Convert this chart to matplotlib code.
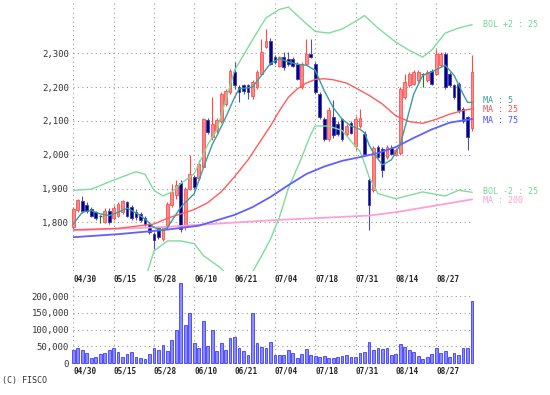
import matplotlib
matplotlib.use('Agg')
import matplotlib.pyplot as plt
import matplotlib.transforms as mtransforms
from matplotlib.ticker import FuncFormatter

# trading days (2024/04/30 - 2024/09/06)
dates = ['04/30',
         '05/01', '05/02', '05/07', '05/08', '05/09', '05/10', '05/13', '05/14', '05/15',
         '05/16', '05/17', '05/20', '05/21', '05/22', '05/23', '05/24', '05/27', '05/28',
         '05/29', '05/30', '05/31',
         '06/03', '06/04', '06/05', '06/06', '06/07', '06/10', '06/11', '06/12', '06/13',
         '06/14', '06/17', '06/18', '06/19', '06/20', '06/21', '06/24', '06/25', '06/26',
         '06/27', '06/28',
         '07/01', '07/02', '07/03', '07/04', '07/05', '07/08', '07/09', '07/10', '07/11',
         '07/12', '07/16', '07/17', '07/18', '07/19', '07/22', '07/23', '07/24', '07/25',
         '07/26', '07/29', '07/30', '07/31',
         '08/01', '08/02', '08/05', '08/06', '08/07', '08/08', '08/09', '08/13', '08/14',
         '08/15', '08/16', '08/19', '08/20', '08/21', '08/22', '08/23', '08/26', '08/27',
         '08/28', '08/29', '08/30',
         '09/02', '09/03', '09/04', '09/05', '09/06']
tick_dates = ['04/30', '05/15', '05/28', '06/10', '06/21', '07/04', '07/18', '07/31', '08/14', '08/27']

opens = [1785, 1838, 1862, 1850, 1840, 1830, 1820, 1801, 1835, 1813,
         1820, 1830, 1860, 1845, 1830, 1825, 1813, 1796, 1766, 1783,
         1750, 1786, 1850, 1880, 1915, 1786, 1900, 1934, 1930, 1964,
         2102, 2052, 2072, 2101, 2151, 2185, 2244, 2200, 2205, 2205,
         2175, 2200, 2240, 2320, 2338, 2289, 2264, 2289, 2284, 2284,
         2269, 2200, 2269, 2299, 2269, 2180, 2106, 2047, 2111, 2090,
         2106, 2060, 2095, 2025, 2085, 2062, 1924, 1895, 2023, 2018,
         1993, 2020, 2000, 2005, 2170, 2205, 2210, 2220, 2240, 2220,
         2249, 2240, 2265, 2299, 2240, 2205, 2210, 2136, 2111, 2080]
highs = [1845, 1870, 1877, 1860, 1845, 1835, 1822, 1842, 1843, 1850,
         1860, 1867, 1863, 1850, 1840, 1830, 1818, 1800, 1770, 1790,
         1790, 1860, 1914, 1925, 1925, 1904, 1998, 1940, 1985, 2110,
         2110, 2170, 2110, 2185, 2195, 2255, 2274, 2205, 2210, 2210,
         2220, 2250, 2343, 2373, 2345, 2295, 2292, 2305, 2304, 2290,
         2275, 2275, 2343, 2343, 2275, 2185, 2112, 2140, 2161, 2100,
         2110, 2090, 2100, 2116, 2136, 2070, 1930, 2025, 2030, 2022,
         2028, 2030, 2020, 2200, 2240, 2245, 2250, 2250, 2242, 2250,
         2255, 2313, 2305, 2305, 2245, 2210, 2215, 2140, 2115, 2295]
lows = [1775, 1832, 1828, 1828, 1815, 1808, 1797, 1797, 1795, 1808,
        1815, 1825, 1815, 1808, 1808, 1800, 1790, 1765, 1722, 1750,
        1745, 1780, 1845, 1870, 1772, 1776, 1895, 1900, 1925, 1960,
        2060, 2045, 2065, 2095, 2145, 2180, 2195, 2156, 2180, 2165,
        2165, 2195, 2235, 2315, 2265, 2270, 2260, 2250, 2264, 2260,
        2220, 2195, 2265, 2285, 2180, 2105, 2040, 2040, 2050, 2055,
        2040, 2055, 2060, 2015, 2080, 1998, 1778, 1889, 1990, 1934,
        1988, 1998, 1995, 2000, 2165, 2200, 2205, 2215, 2200, 2215,
        2205, 2235, 2260, 2195, 2200, 2165, 2125, 2095, 2013, 2070]
closes = [1840, 1865, 1835, 1835, 1820, 1813, 1820, 1835, 1800, 1843,
          1855, 1863, 1820, 1813, 1815, 1806, 1796, 1771, 1747, 1756,
          1786, 1855, 1890, 1910, 1780, 1900, 1944, 1904, 1973, 2105,
          2067, 2092, 2102, 2180, 2190, 2249, 2205, 2185, 2190, 2185,
          2215, 2245, 2304, 2338, 2269, 2274, 2289, 2259, 2269, 2264,
          2225, 2269, 2299, 2290, 2185, 2111, 2047, 2131, 2057, 2062,
          2047, 2085, 2065, 2105, 2110, 2003, 1850, 2020, 1993, 1954,
          2023, 2003, 2015, 2195, 2215, 2240, 2245, 2245, 2240, 2245,
          2210, 2299, 2299, 2200, 2205, 2171, 2131, 2101, 2052, 2245]
volumes = [39000, 46000, 41000, 30000, 15000, 20000, 27000, 30000, 39000, 46000,
           35000, 20000, 27000, 33000, 20000, 17000, 12000, 27000, 46000, 39000,
           54000, 37000, 69000, 99000, 238000, 114000, 150000, 61000, 46000, 126000,
           52000, 99000, 37000, 59000, 41000, 74000, 79000, 46000, 37000, 25000,
           149000, 59000, 49000, 47000, 64000, 25000, 25000, 25000, 40000, 32000,
           17000, 27000, 42000, 25000, 22000, 20000, 22000, 17000, 17000, 20000,
           23000, 25000, 20000, 20000, 32000, 35000, 64000, 40000, 45000, 42000,
           45000, 25000, 28000, 57000, 49000, 40000, 35000, 23000, 13000, 18000,
           27000, 45000, 30000, 38000, 18000, 32000, 25000, 45000, 45000, 185000]

# indicator lines (bar index, value)
ma5_idx = [0, 2, 4, 6, 8, 10, 12, 14, 16, 18, 20, 21, 22, 24, 27, 29, 31, 32, 34, 36, 37, 40,
           42, 44, 46, 48, 50, 52, 54, 56, 58, 60, 62, 64, 65, 66, 67, 69, 71, 73, 75, 76,
           78, 80, 83, 85, 87, 88, 89]
ma5_val = [1795, 1830, 1835, 1825, 1820, 1830, 1842, 1828, 1810, 1785, 1775, 1785, 1805,
           1845, 1885, 1960, 2030, 2055, 2110, 2170, 2195, 2200, 2235, 2270, 2285, 2275,
           2268, 2265, 2250, 2190, 2140, 2105, 2085, 2075, 2065, 2030, 2005, 1970, 1985,
           2030, 2130, 2180, 2235, 2245, 2265, 2235, 2180, 2155, 2155]
ma25_idx = [0, 10, 18, 21, 24, 27, 30, 33, 36, 39, 42, 44, 46, 48, 50, 52, 54, 56, 58, 61,
            63, 66, 69, 72, 75, 78, 81, 84, 87, 89]
ma25_val = [1778, 1782, 1795, 1812, 1825, 1838, 1858, 1890, 1935, 1985, 2045, 2085, 2130,
            2170, 2195, 2212, 2223, 2225, 2222, 2212, 2198, 2176, 2150, 2115, 2098, 2093,
            2105, 2120, 2131, 2136]
ma75_idx = [0, 10, 20, 28, 36, 40, 44, 48, 52, 56, 60, 64, 68, 72, 76, 80, 84, 89]
ma75_val = [1756, 1765, 1777, 1790, 1822, 1845, 1875, 1910, 1943, 1965, 1982, 1993, 2005,
            2023, 2050, 2075, 2095, 2106]
ma200_idx = [0, 20, 44, 66, 72, 81, 89]
ma200_val = [1776, 1786, 1806, 1820, 1830, 1850, 1868]
bolu_idx = [0, 4, 9, 14, 16, 18, 20, 22, 24, 27, 29, 30, 32, 33, 36, 40, 43, 46, 48, 51,
            54, 57, 60, 63, 65, 68, 72, 75, 78, 80, 83, 86, 89]
bolu_val = [1895, 1898, 1925, 1950, 1942, 1895, 1878, 1890, 1915, 1944, 2000, 2030, 2072,
            2116, 2250, 2340, 2405, 2430, 2437, 2400, 2365, 2360, 2372, 2395, 2412, 2375,
            2333, 2309, 2289, 2310, 2360, 2375, 2385]
boll_idx = [0, 4, 9, 14, 16, 17, 18, 21, 24, 27, 29, 33, 36, 40, 42, 44, 46, 48, 51, 53,
            54, 57, 60, 62, 64, 65, 66, 68, 72, 75, 78, 80, 83, 86, 89]
boll_val = [1648, 1642, 1628, 1600, 1630, 1672, 1715, 1745, 1745, 1737, 1702, 1664, 1620,
            1653, 1700, 1750, 1815, 1900, 1993, 2060, 2085, 2085, 2072, 2040, 2010, 1975,
            1935, 1885, 1870, 1880, 1890, 1885, 1878, 1895, 1889]

price_ticks = [1800, 1900, 2000, 2100, 2200, 2300]
vol_ticks = [0, 50000, 100000, 150000, 200000]

MONO = 'DejaVu Sans Mono'
GRID = dict(color='#9a9a9a', linestyle=(0, (1, 3)), linewidth=0.8)

fig = plt.figure(figsize=(5.5, 3.95), dpi=100)
W, H = 550.0, 395.0
ax = fig.add_axes([73.3 / W, 1 - 271 / H, 400 / W, 271 / H])
axv = fig.add_axes([73.3 / W, 1 - 363.3 / H, 400 / W, 80 / H])

n = len(dates)
xs = list(range(n))
tick_pos = [dates.index(d) for d in tick_dates]

# --- candles ---
for i in xs:
    o, h, l, c = opens[i], highs[i], lows[i], closes[i]
    if c > o:
        wick, face, edge = '#ff4848', '#ff8a8a', '#ff5050'
    elif c < o:
        wick, face, edge = '#5050b0', '#000080', '#3a3ab8'
    else:
        wick, face, edge = '#1f7a1f', '#1f7a1f', '#1f7a1f'
    ax.vlines(i, l, h, color=wick, linewidth=0.8, zorder=2, clip_on=False)
    if c != o:
        ax.bar(i, abs(c - o), bottom=min(o, c), width=0.62, color=face,
               edgecolor=edge, linewidth=0.6, zorder=3, clip_on=False)
    else:
        ax.hlines(c, i - 0.35, i + 0.35, color=face, linewidth=1.0, zorder=3)

# --- lines ---
ax.plot(bolu_idx, bolu_val, color='#80dc9c', linewidth=1.0, zorder=4)
ax.plot(boll_idx, boll_val, color='#80dc9c', linewidth=1.0, zorder=4)
ax.plot(ma200_idx, ma200_val, color='#ff9fd4', linewidth=1.3, zorder=4)
ax.plot(ma75_idx, ma75_val, color='#6060ff', linewidth=1.3, zorder=4)
ax.plot(ma25_idx, ma25_val, color='#ff5c5c', linewidth=1.0, zorder=4)
ax.plot(ma5_idx, ma5_val, color='#3a9e9e', linewidth=1.0, zorder=5)

ax.set_xlim(0, 400 / 4.48)
ax.set_ylim(1656, 2458)
ax.set_yticks(price_ticks)
ax.yaxis.set_major_formatter(FuncFormatter(lambda v, p: '{:,}'.format(int(v))))
ax.set_xticks(tick_pos)
ax.set_xticklabels(tick_dates, ha='left', fontsize=5.5, family=MONO,
                   fontweight='bold', color='#222222')
ax.grid(True, **GRID)
ax.set_axisbelow(True)
ax.tick_params(axis='both', length=0)
ax.tick_params(axis='x', pad=2.5)
ax.tick_params(axis='y', pad=3, labelsize=6.5, labelcolor='#333333')
for lab in ax.get_yticklabels():
    lab.set_family(MONO)
for s in ax.spines.values():
    s.set_visible(False)

# right side legend labels at line ends (small pixel nudges keep them apart)
trans = mtransforms.blended_transform_factory(ax.transAxes, ax.transData)
labels = [('BOL +2 : 25', bolu_val[-1], '#70d890', 0),
          ('MA : 5', ma5_val[-1], '#3a9e9e', 1.5),
          ('MA : 25', ma25_val[-1], '#ff5050', -1.0),
          ('MA : 75', ma75_val[-1], '#5050ff', -1.5),
          ('BOL -2 : 25', boll_val[-1], '#70d890', 1.0),
          ('MA : 200', ma200_val[-1], '#ff9fd4', -1.5)]
for txt, v, col, dy in labels:
    tr = mtransforms.offset_copy(trans, fig=fig, y=dy, units='dots')
    ax.text(1.024, v, txt, transform=tr, color=col, fontsize=6.0,
            family=MONO, va='center', ha='left', clip_on=False)

# --- volume ---
axv.bar(xs, volumes, width=0.62, color='#8c8cff', edgecolor='#3c3cff',
        linewidth=0.6, zorder=3, clip_on=False)
axv.set_xlim(0, 400 / 4.48)
axv.set_ylim(0, 238000)
axv.set_yticks(vol_ticks)
axv.yaxis.set_major_formatter(FuncFormatter(lambda v, p: '{:,}'.format(int(v))))
axv.set_xticks(tick_pos)
axv.set_xticklabels(tick_dates, ha='left', fontsize=5.5, family=MONO,
                    fontweight='bold', color='#222222')
axv.grid(True, **GRID)
axv.set_axisbelow(True)
axv.tick_params(axis='both', length=0)
axv.tick_params(axis='x', pad=2)
axv.tick_params(axis='y', pad=3, labelsize=6.5, labelcolor='#333333')
for lab in axv.get_yticklabels():
    lab.set_family(MONO)
for s in axv.spines.values():
    s.set_visible(False)

fig.text(2 / W, 1 - 380 / H, '(C) FISCO', fontsize=6, family=MONO,
         color='#333333', va='center', ha='left')

fig.savefig('out.png', dpi=100)
